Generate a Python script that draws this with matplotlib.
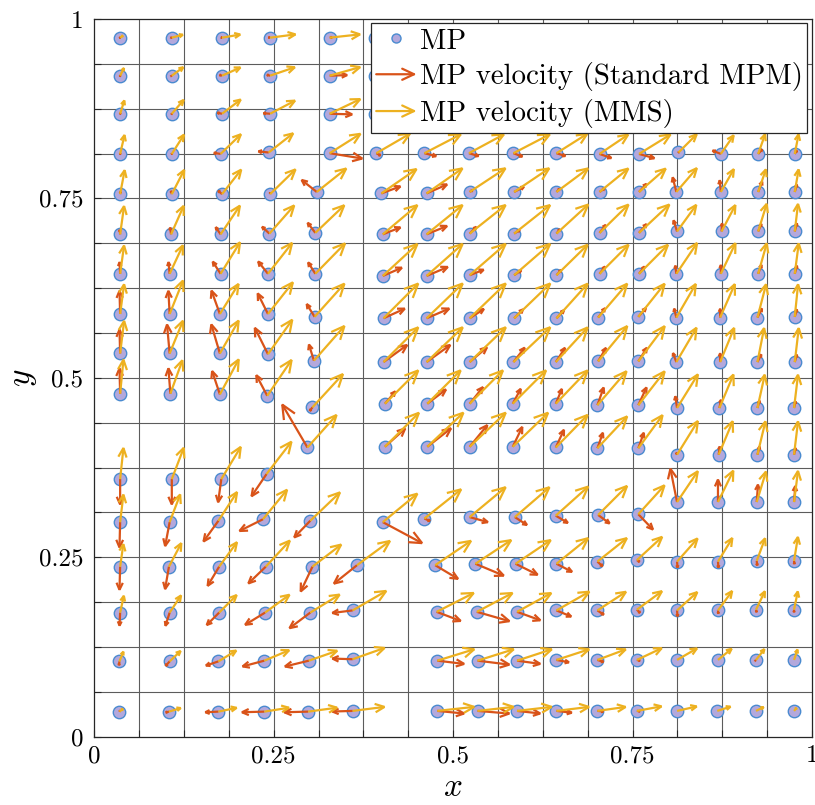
import numpy as np
import matplotlib
matplotlib.use("Agg")
import matplotlib.pyplot as plt
from matplotlib.patches import FancyArrowPatch, Patch
from matplotlib.lines import Line2D
from matplotlib.legend_handler import HandlerPatch

plt.rcParams["font.family"] = "serif"
plt.rcParams["font.serif"] = ["cmr10"]
plt.rcParams["mathtext.fontset"] = "cm"
plt.rcParams["axes.formatter.use_mathtext"] = True

# ---------------- data ----------------
# material point positions
mp_x = [
    0.036, 0.108, 0.178, 0.245, 0.328, 0.391,
    0.036, 0.108, 0.178, 0.245, 0.328, 0.391,
    0.036, 0.108, 0.178, 0.245, 0.328, 0.391,
    0.036, 0.108, 0.176, 0.243, 0.328, 0.393, 0.460, 0.522, 0.584, 0.644, 0.704, 0.759, 0.814, 0.873, 0.925, 0.976,
    0.036, 0.108, 0.178, 0.245, 0.310, 0.400, 0.463, 0.523, 0.585, 0.644, 0.704, 0.759, 0.811, 0.873, 0.925, 0.976,
    0.036, 0.107, 0.176, 0.244, 0.308, 0.402, 0.463, 0.523, 0.585, 0.644, 0.704, 0.759, 0.812, 0.874, 0.925, 0.976,
    0.036, 0.105, 0.176, 0.242, 0.308, 0.402, 0.463, 0.523, 0.585, 0.644, 0.704, 0.759, 0.811, 0.873, 0.925, 0.976,
    0.036, 0.105, 0.175, 0.242, 0.307, 0.403, 0.463, 0.523, 0.585, 0.644, 0.702, 0.758, 0.811, 0.872, 0.924, 0.976,
    0.036, 0.105, 0.175, 0.242, 0.306, 0.403, 0.463, 0.523, 0.584, 0.643, 0.702, 0.758, 0.811, 0.872, 0.924, 0.976,
    0.036, 0.106, 0.175, 0.241, 0.304, 0.405, 0.464, 0.523, 0.583, 0.643, 0.701, 0.758, 0.812, 0.871, 0.924, 0.975,
    0.297, 0.405, 0.464, 0.523, 0.583, 0.643, 0.701, 0.758, 0.812, 0.870, 0.924, 0.975,
    0.036, 0.108, 0.177, 0.240,
    0.036, 0.105, 0.173, 0.235, 0.301, 0.402, 0.460, 0.523, 0.586, 0.643, 0.702, 0.758, 0.812, 0.869, 0.923, 0.975,
    0.036, 0.104, 0.174, 0.239, 0.304, 0.366, 0.475, 0.531, 0.587, 0.644, 0.701, 0.756, 0.812, 0.869, 0.923, 0.975,
    0.036, 0.105, 0.174, 0.238, 0.301, 0.360, 0.477, 0.533, 0.589, 0.644, 0.701, 0.756, 0.812, 0.869, 0.922, 0.975,
    0.035, 0.105, 0.173, 0.237, 0.299, 0.360, 0.478, 0.534, 0.589, 0.644, 0.701, 0.756, 0.812, 0.869, 0.922, 0.975,
    0.035, 0.104, 0.173, 0.237, 0.298, 0.360, 0.478, 0.534, 0.589, 0.644, 0.701, 0.756, 0.812, 0.868, 0.922, 0.975,
]
mp_y = [
    0.974, 0.974, 0.974, 0.974, 0.974, 0.974,
    0.921, 0.921, 0.921, 0.921, 0.921, 0.921,
    0.868, 0.868, 0.868, 0.868, 0.868, 0.868,
    0.812, 0.812, 0.812, 0.814, 0.813, 0.813, 0.813, 0.813, 0.813, 0.813, 0.812, 0.812, 0.814, 0.812, 0.812, 0.812,
    0.756, 0.756, 0.756, 0.756, 0.759, 0.757, 0.757, 0.759, 0.759, 0.759, 0.759, 0.759, 0.759, 0.759, 0.759, 0.759,
    0.700, 0.700, 0.700, 0.701, 0.702, 0.700, 0.700, 0.701, 0.701, 0.701, 0.702, 0.702, 0.704, 0.704, 0.704, 0.704,
    0.645, 0.645, 0.645, 0.645, 0.645, 0.642, 0.642, 0.643, 0.643, 0.643, 0.645, 0.645, 0.645, 0.645, 0.645, 0.645,
    0.589, 0.589, 0.589, 0.589, 0.585, 0.583, 0.583, 0.583, 0.583, 0.583, 0.584, 0.585, 0.584, 0.584, 0.584, 0.585,
    0.534, 0.534, 0.534, 0.533, 0.524, 0.522, 0.522, 0.522, 0.522, 0.522, 0.523, 0.523, 0.522, 0.522, 0.522, 0.522,
    0.478, 0.478, 0.477, 0.475, 0.459, 0.464, 0.464, 0.464, 0.464, 0.464, 0.462, 0.462, 0.458, 0.458, 0.458, 0.458,
    0.403, 0.404, 0.404, 0.404, 0.404, 0.403, 0.402, 0.402, 0.393, 0.393, 0.393, 0.393,
    0.359, 0.359, 0.359, 0.366,
    0.299, 0.299, 0.301, 0.303, 0.301, 0.299, 0.304, 0.306, 0.306, 0.308, 0.309, 0.310, 0.327, 0.327, 0.327, 0.327,
    0.237, 0.237, 0.237, 0.237, 0.237, 0.239, 0.239, 0.241, 0.241, 0.241, 0.244, 0.246, 0.244, 0.244, 0.245, 0.245,
    0.173, 0.173, 0.173, 0.173, 0.173, 0.176, 0.174, 0.174, 0.174, 0.176, 0.176, 0.177, 0.176, 0.176, 0.177, 0.177,
    0.105, 0.105, 0.105, 0.106, 0.106, 0.108, 0.106, 0.106, 0.106, 0.107, 0.107, 0.107, 0.107, 0.107, 0.107, 0.107,
    0.035, 0.035, 0.035, 0.035, 0.035, 0.036, 0.036, 0.036, 0.036, 0.036, 0.036, 0.036, 0.036, 0.036, 0.036, 0.036,
]

# MP velocity, standard MPM (as drawn, in axis units)
std_u = [
    0.003, 0.002, -0.005, -0.006, 0.007, 0.004,
    0.001, 0.002, -0.007, -0.008, 0.028, 0.028,
    0.001, 0.001, -0.010, -0.013, 0.035, 0.035,
    0.001, 0.001, -0.013, -0.018, 0.049, 0.009, 0.020, 0.017, 0.016, 0.016, 0.020, 0.025, 0.003, -0.015, 0.008, 0.005,
    0.001, -0.002, -0.008, 0.000, -0.024, 0.030, 0.032, 0.007, 0.017, 0.007, 0.010, 0.013, -0.006, -0.002, 0.007, 0.004,
    -0.001, -0.002, -0.009, -0.013, -0.013, 0.028, 0.032, 0.012, 0.011, 0.007, 0.011, 0.013, -0.006, 0.001, 0.006, 0.004,
    -0.001, -0.002, -0.013, -0.016, -0.012, 0.030, 0.033, 0.023, 0.013, 0.009, 0.010, 0.010, -0.002, 0.000, 0.006, 0.004,
    -0.001, -0.002, -0.013, -0.016, -0.013, 0.033, 0.035, 0.023, 0.015, 0.013, 0.012, 0.013, -0.004, 0.000, 0.008, 0.004,
    -0.001, -0.004, -0.013, -0.020, -0.008, 0.036, 0.036, 0.027, 0.018, 0.015, 0.013, 0.014, -0.006, 0.000, 0.007, 0.004,
    -0.001, -0.003, -0.012, -0.017, -0.006, 0.017, 0.029, 0.021, 0.013, 0.010, 0.010, 0.013, -0.003, 0.003, 0.004, 0.003,
    -0.037, 0.031, 0.036, 0.027, 0.015, 0.013, 0.009, 0.009, -0.003, 0.002, 0.004, 0.003,
    0.000, 0.000, -0.005, -0.023,
    -0.001, -0.007, -0.023, -0.036, -0.025, 0.058, 0.011, 0.029, 0.020, 0.020, 0.019, 0.023, -0.010, 0.000, 0.002, 0.002,
    -0.001, -0.006, -0.018, -0.027, -0.018, -0.035, 0.035, 0.043, 0.034, 0.025, 0.010, 0.007, 0.001, 0.001, 0.001, 0.001,
    -0.001, -0.007, -0.020, -0.031, -0.032, -0.032, 0.037, 0.049, 0.036, 0.024, 0.012, 0.007, 0.001, 0.001, 0.002, 0.000,
    -0.001, -0.008, -0.021, -0.034, -0.037, -0.032, 0.041, 0.048, 0.036, 0.021, 0.012, 0.008, 0.001, 0.001, 0.001, 0.000,
    -0.001, -0.008, -0.022, -0.035, -0.037, -0.032, 0.041, 0.048, 0.036, 0.025, 0.012, 0.008, 0.001, 0.001, 0.001, 0.000,
]
std_v = [
    0.001, 0.000, 0.001, 0.001, 0.001, 0.000,
    0.003, 0.001, 0.002, 0.002, 0.001, 0.000,
    0.004, 0.003, 0.002, 0.001, -0.001, 0.000,
    0.004, 0.004, 0.002, 0.002, -0.008, -0.005, -0.005, -0.005, -0.006, -0.005, -0.007, -0.007, 0.003, 0.006, 0.009, 0.008,
    0.007, 0.008, 0.007, 0.006, 0.019, 0.011, 0.014, 0.004, 0.009, 0.007, 0.007, 0.014, 0.024, 0.020, 0.018, 0.014,
    0.010, 0.013, 0.013, 0.012, 0.017, 0.011, 0.013, 0.012, 0.007, 0.009, 0.014, 0.015, 0.019, 0.015, 0.014, 0.015,
    0.020, 0.020, 0.020, 0.020, 0.019, 0.013, 0.014, 0.009, 0.009, 0.010, 0.013, 0.013, 0.015, 0.016, 0.016, 0.015,
    0.036, 0.036, 0.036, 0.032, 0.021, 0.015, 0.015, 0.015, 0.015, 0.014, 0.016, 0.015, 0.016, 0.016, 0.016, 0.014,
    0.037, 0.044, 0.044, 0.040, 0.026, 0.026, 0.026, 0.023, 0.023, 0.023, 0.022, 0.022, 0.016, 0.016, 0.014, 0.014,
    0.039, 0.039, 0.036, 0.032, -0.008, 0.020, 0.022, 0.026, 0.024, 0.024, 0.028, 0.028, 0.020, 0.015, 0.014, 0.013,
    0.063, 0.028, 0.028, 0.033, 0.031, 0.028, 0.025, 0.025, 0.006, 0.015, 0.015, 0.013,
    -0.039, -0.039, -0.036, -0.034,
    -0.039, -0.037, -0.032, -0.018, -0.026, -0.031, -0.005, -0.008, -0.013, -0.012, -0.014, -0.024, 0.050, 0.035, 0.028, 0.026,
    -0.036, -0.035, -0.030, -0.026, -0.038, -0.028, -0.021, -0.018, -0.017, -0.013, -0.009, -0.004, -0.012, -0.012, -0.010, -0.008,
    -0.022, -0.022, -0.020, -0.019, -0.024, -0.004, -0.014, -0.014, -0.013, -0.010, -0.008, -0.007, -0.012, -0.008, -0.007, -0.007,
    -0.009, -0.009, -0.007, -0.009, -0.009, 0.001, -0.005, -0.006, -0.005, -0.004, -0.004, -0.002, 0.000, 0.000, 0.001, 0.001,
    -0.002, -0.002, -0.001, -0.001, -0.001, -0.001, -0.004, -0.004, -0.004, -0.003, -0.001, -0.001, 0.000, 0.000, 0.000, 0.000,
]

# MP velocity, manufactured solution
mms_u = [
    0.007, 0.019, 0.029, 0.039, 0.046, 0.046,
    0.007, 0.019, 0.029, 0.038, 0.046, 0.046,
    0.007, 0.019, 0.029, 0.038, 0.046, 0.046,
    0.007, 0.019, 0.031, 0.037, 0.046, 0.050, 0.054, 0.052, 0.054, 0.046, 0.043, 0.047, 0.028, 0.020, 0.011, 0.006,
    0.007, 0.019, 0.029, 0.038, 0.044, 0.052, 0.053, 0.053, 0.052, 0.047, 0.043, 0.040, 0.031, 0.020, 0.012, 0.006,
    0.006, 0.019, 0.029, 0.037, 0.043, 0.051, 0.053, 0.053, 0.053, 0.047, 0.043, 0.045, 0.029, 0.021, 0.013, 0.005,
    0.006, 0.020, 0.029, 0.036, 0.044, 0.051, 0.053, 0.053, 0.053, 0.046, 0.043, 0.043, 0.031, 0.022, 0.013, 0.006,
    0.006, 0.020, 0.028, 0.037, 0.044, 0.051, 0.053, 0.053, 0.053, 0.046, 0.043, 0.039, 0.029, 0.022, 0.013, 0.005,
    0.006, 0.020, 0.028, 0.036, 0.045, 0.051, 0.053, 0.053, 0.054, 0.047, 0.043, 0.039, 0.030, 0.021, 0.010, 0.006,
    0.005, 0.018, 0.028, 0.036, 0.045, 0.049, 0.049, 0.049, 0.049, 0.047, 0.043, 0.039, 0.031, 0.021, 0.011, 0.006,
    0.043, 0.050, 0.053, 0.053, 0.052, 0.047, 0.044, 0.036, 0.031, 0.021, 0.012, 0.006,
    0.005, 0.018, 0.029, 0.037,
    0.005, 0.016, 0.028, 0.036, 0.044, 0.051, 0.054, 0.053, 0.051, 0.048, 0.043, 0.039, 0.031, 0.023, 0.014, 0.006,
    0.005, 0.019, 0.027, 0.036, 0.043, 0.049, 0.053, 0.053, 0.052, 0.047, 0.044, 0.038, 0.031, 0.022, 0.013, 0.006,
    0.006, 0.018, 0.027, 0.037, 0.044, 0.050, 0.055, 0.053, 0.051, 0.049, 0.043, 0.038, 0.031, 0.022, 0.014, 0.006,
    0.007, 0.018, 0.028, 0.038, 0.043, 0.048, 0.055, 0.054, 0.052, 0.049, 0.043, 0.038, 0.031, 0.022, 0.014, 0.006,
    0.008, 0.020, 0.029, 0.038, 0.044, 0.048, 0.055, 0.054, 0.052, 0.049, 0.043, 0.038, 0.031, 0.022, 0.014, 0.006,
]
mms_v = [
    0.005, 0.005, 0.005, 0.005, 0.005, 0.006,
    0.014, 0.014, 0.013, 0.013, 0.013, 0.014,
    0.022, 0.022, 0.022, 0.020, 0.022, 0.022,
    0.030, 0.030, 0.030, 0.029, 0.029, 0.029, 0.028, 0.028, 0.028, 0.029, 0.029, 0.029, 0.028, 0.029, 0.031, 0.031,
    0.037, 0.037, 0.037, 0.037, 0.035, 0.036, 0.037, 0.035, 0.035, 0.035, 0.035, 0.035, 0.036, 0.035, 0.035, 0.035,
    0.043, 0.043, 0.043, 0.042, 0.041, 0.043, 0.043, 0.042, 0.042, 0.043, 0.042, 0.042, 0.040, 0.040, 0.042, 0.042,
    0.043, 0.043, 0.047, 0.046, 0.045, 0.047, 0.047, 0.046, 0.046, 0.045, 0.043, 0.043, 0.046, 0.046, 0.046, 0.046,
    0.045, 0.050, 0.045, 0.047, 0.049, 0.051, 0.051, 0.051, 0.051, 0.051, 0.050, 0.049, 0.050, 0.050, 0.050, 0.049,
    0.049, 0.049, 0.049, 0.051, 0.051, 0.051, 0.051, 0.051, 0.051, 0.051, 0.052, 0.052, 0.051, 0.051, 0.051, 0.051,
    0.051, 0.050, 0.052, 0.053, 0.049, 0.049, 0.049, 0.049, 0.049, 0.049, 0.050, 0.050, 0.050, 0.050, 0.050, 0.050,
    0.048, 0.050, 0.050, 0.050, 0.050, 0.048, 0.047, 0.049, 0.050, 0.050, 0.050, 0.050,
    0.047, 0.047, 0.048, 0.048,
    0.042, 0.042, 0.043, 0.044, 0.042, 0.042, 0.043, 0.044, 0.044, 0.043, 0.043, 0.043, 0.046, 0.047, 0.046, 0.047,
    0.035, 0.036, 0.037, 0.039, 0.033, 0.036, 0.036, 0.035, 0.035, 0.038, 0.035, 0.035, 0.035, 0.036, 0.035, 0.037,
    0.027, 0.027, 0.027, 0.027, 0.027, 0.029, 0.028, 0.028, 0.028, 0.028, 0.028, 0.028, 0.028, 0.030, 0.029, 0.029,
    0.017, 0.017, 0.017, 0.016, 0.015, 0.017, 0.017, 0.017, 0.017, 0.016, 0.016, 0.018, 0.018, 0.018, 0.018, 0.018,
    0.006, 0.006, 0.006, 0.006, 0.006, 0.006, 0.006, 0.006, 0.006, 0.006, 0.006, 0.007, 0.007, 0.007, 0.007, 0.007,
]

# background grid (16 x 16 cells) and ticks
grid_lines = [k / 16 for k in range(1, 16)]
tick_vals = [0, 0.25, 0.5, 0.75, 1]
tick_text = ["0", "0.25", "0.5", "0.75", "1"]
minor_vals = [k / 16 for k in range(17)]

RED = "#D95319"
YEL = "#EDB120"
MP_FACE = "#B3A8DC"
MP_EDGE = "#4A8BD0"


def draw_arrows(ax, x, y, u, v, color, z):
    # matlab-like quiver: open heads that scale with the arrow length
    tr = ax.transData
    for xi, yi, ui, vi in zip(x, y, u, v):
        p0 = tr.transform((xi, yi))
        p1 = tr.transform((xi + ui, yi + vi))
        L = np.hypot(*(p1 - p0))
        if L < 0.8:
            continue
        hl = 0.27 * L * 0.72
        hw = 0.45 * hl
        arr = FancyArrowPatch((xi, yi), (xi + ui, yi + vi),
                              arrowstyle=f"->,head_length={hl:.2f},head_width={hw:.2f}",
                              mutation_scale=1, color=color, lw=1.6,
                              shrinkA=0, shrinkB=0, zorder=z,
                              joinstyle="miter", capstyle="butt")
        ax.add_patch(arr)


class ArrowHandler(HandlerPatch):
    def create_artists(self, legend, orig_handle, xdescent, ydescent,
                       width, height, fontsize, trans):
        yc = height / 2 - ydescent
        a = FancyArrowPatch((-xdescent, yc), (width - xdescent, yc),
                            arrowstyle="->,head_length=8.5,head_width=4",
                            mutation_scale=1, color=orig_handle.get_facecolor(),
                            lw=1.6, shrinkA=0, shrinkB=0)
        a.set_transform(trans)
        return [a]


fig = plt.figure(figsize=(8.15, 8.05), dpi=100)
ax = fig.add_axes([0.1157, 0.0848, 0.8806, 0.8916])
ax.set_xlim(0, 1)
ax.set_ylim(0, 1)

ax.vlines(grid_lines, 0, 1, colors="#5c5c5c", lw=0.8, zorder=1)
ax.hlines(grid_lines, 0, 1, colors="#5c5c5c", lw=0.8, zorder=1)

ax.scatter(mp_x, mp_y, s=80, facecolor=MP_FACE, edgecolor=MP_EDGE,
           linewidths=1.0, zorder=2)
draw_arrows(ax, mp_x, mp_y, std_u, std_v, RED, 3)
draw_arrows(ax, mp_x, mp_y, mms_u, mms_v, YEL, 4)

ax.set_xticks(tick_vals)
ax.set_xticklabels(tick_text)
ax.set_yticks(tick_vals)
ax.set_yticklabels(tick_text)
ax.set_xticks(minor_vals, minor=True)
ax.set_yticks(minor_vals, minor=True)
ax.tick_params(which="both", direction="in", length=5, width=0.8,
               color="#262626", labelsize=18, top=False, right=False)
ax.tick_params(axis="x", pad=6)
ax.tick_params(axis="y", pad=8)
for s in ax.spines.values():
    s.set_color("#262626")
    s.set_linewidth(0.9)

ax.set_xlabel("$x$", fontsize=24, labelpad=4)
ax.set_ylabel("$y$", fontsize=24, labelpad=0)

h_mp = Line2D([], [], marker="o", linestyle="none", markersize=6.5,
              markerfacecolor=MP_FACE, markeredgecolor=MP_EDGE)
h_std = Patch(facecolor=RED)
h_mms = Patch(facecolor=YEL)
leg = ax.legend([h_mp, h_std, h_mms],
                ["MP", "MP velocity (Standard MPM)", "MP velocity (MMS)"],
                handler_map={h_std: ArrowHandler(), h_mms: ArrowHandler()},
                loc="upper right", bbox_to_anchor=(0.9935, 0.994),
                borderaxespad=0, fontsize=20.8, handlelength=1.4,
                handletextpad=0.1, labelspacing=0.27, borderpad=0.17,
                fancybox=False, framealpha=1, edgecolor="#262626")
leg.get_frame().set_linewidth(0.9)
leg.set_zorder(10)

fig.savefig("out.png", dpi=100)
